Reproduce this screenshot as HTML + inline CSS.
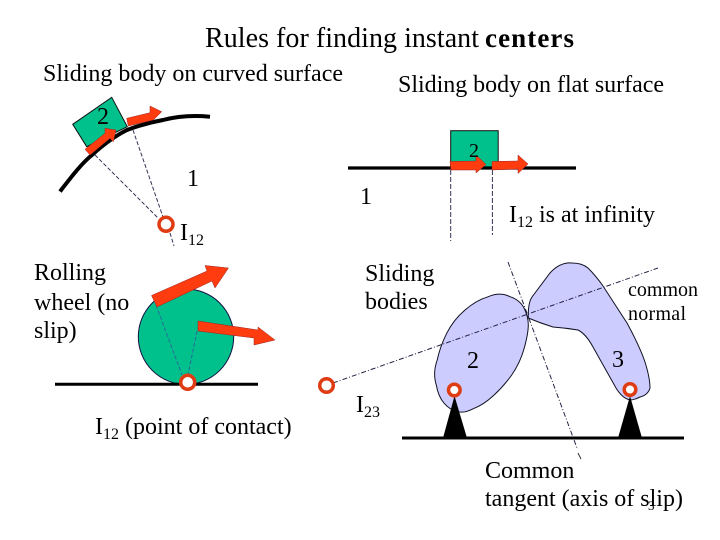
<!DOCTYPE html>
<html><head><meta charset="utf-8"><style>
html,body{margin:0;padding:0;background:#fff}
svg{display:block}
text{font-family:"Liberation Serif",serif;fill:#000}
</style></head><body>
<svg width="720" height="540" viewBox="0 0 720 540" xmlns="http://www.w3.org/2000/svg">
<!-- top-left -->
<polygon points="72.7,124.3 111.7,97.3 127.3,126.7 86.7,146.7" fill="#00c08c" stroke="#111" stroke-width="1"/>
<path d="M60,191.5 C72,176 82,163 92,155 C104,144 115,136 127,130 C140,125 152,122 163,120 C178,116 192,115 210,116.7" fill="none" stroke="#000" stroke-width="4"/>
<g stroke="#335" stroke-width="1" stroke-dasharray="4 2" fill="none">
<line x1="95" y1="155" x2="158" y2="218"/>
<line x1="133" y1="130" x2="163" y2="217"/>
<line x1="170" y1="233" x2="174" y2="246"/>
</g>
<polygon points="85,149.3 105,133.3 105,128.3 116,130 113.3,141.7 110,138.3 90,155" fill="#ff3c10" stroke="#922" stroke-width=".5"/>
<polygon points="126.7,118.3 150,112.7 150,106 161.7,111.7 153.3,120 128.3,126" fill="#ff3c10" stroke="#922" stroke-width=".5"/>
<circle cx="166" cy="224.3" r="7" fill="#fff" stroke="#e03c14" stroke-width="3.5"/>
<!-- top-right -->
<rect x="450.7" y="130.7" width="47.5" height="38" fill="#00c08c" stroke="#111" stroke-width="1"/>
<line x1="348" y1="168" x2="576" y2="168" stroke="#000" stroke-width="3.2"/>
<g stroke="#335" stroke-width="1" stroke-dasharray="5 2" fill="none">
<line x1="450.7" y1="170" x2="450.7" y2="241"/>
<line x1="492.4" y1="170" x2="492.4" y2="235"/>
</g>
<polygon points="450,161.5 476,161 476,155 486,164.5 476,173 476,170 451,170" fill="#ff3c10" stroke="#922" stroke-width=".5"/>
<polygon points="492,161.5 518,161 518,155 528,164 518,173.5 518,169 492,170" fill="#ff3c10" stroke="#922" stroke-width=".5"/>
<!-- wheel -->
<circle cx="186" cy="336.7" r="47.7" fill="#00c08c" stroke="#114" stroke-width="1"/>
<line x1="55" y1="384.3" x2="258" y2="384.3" stroke="#000" stroke-width="3"/>
<g stroke="#2a6a9a" stroke-width="1" stroke-dasharray="4 2" fill="none">
<line x1="156" y1="305" x2="182" y2="375"/>
<line x1="197" y1="331" x2="188" y2="375"/>
</g>
<polygon points="151.5,295.5 207,271 205,265.5 228.5,268 215,288 212,281 157,307" fill="#ff3c10" stroke="#922" stroke-width=".5"/>
<polygon points="198,321 258,330 258,327 275,340 254,345 254,338 198,331" fill="#ff3c10" stroke="#922" stroke-width=".5"/>
<circle cx="187.7" cy="382.3" r="7" fill="#fff" stroke="#e03c14" stroke-width="3.5"/>
<!-- cams -->
<path d="M528.3,325 Q528.3,316.7 524.2,308.4 Q520,300 510,296.7 Q500,291.5 488.3,296.7 Q476.7,300 465,310 Q453.3,320 446.7,333.3 Q440,346.7 437.2,360 Q432.5,373.3 436.3,385 Q438.3,396.7 444.2,403.3 Q450,410 456.7,411.2 Q463.3,414 473.3,408.7 Q483.3,405 493.3,395.8 Q503.3,386.7 511.7,375 Q520,363.3 524.2,348.3 Q528.3,333.3 528.3,325 Z" fill="#ccccff" stroke="#112" stroke-width="1"/>
<path d="M528.3,317 Q528,303 532,297 L550,273 Q560,262 572,263 Q582,263 588,268 Q596,276 603,286 L627,323 Q640,347 645,362 Q650,378 650,388 Q648,395 640,397 Q634,400 630,400 Q622,398 616,388 L593,347 Q586,334 578,330 Q566,328 553,327 Q540,323 528.3,318 Z" fill="#ccccff" stroke="#112" stroke-width="1"/>
<g stroke="#224" stroke-width="1" fill="none" stroke-dasharray="5 2 1 2">
<line x1="333" y1="383" x2="658" y2="268"/>
<line x1="508" y1="262" x2="577" y2="448"/>
</g>
<line x1="578" y1="453" x2="581" y2="459" stroke="#334" stroke-width="1"/>
<line x1="402" y1="438" x2="684" y2="438" stroke="#000" stroke-width="3"/>
<polygon points="454.5,396 443,438 467,438" fill="#000"/>
<polygon points="630,396 618,438 642,438" fill="#000"/>
<circle cx="454.3" cy="390" r="5.8" fill="#fff" stroke="#e03c14" stroke-width="3.5"/>
<circle cx="630" cy="389.5" r="5.8" fill="#fff" stroke="#e03c14" stroke-width="3.5"/>
<circle cx="326.5" cy="385.5" r="6.8" fill="#fff" stroke="#e03c14" stroke-width="3.5"/>
<!-- text -->
<text x="205" y="47" font-size="28" textLength="274" lengthAdjust="spacing">Rules for finding instant</text>
<text x="485" y="47" font-size="27" font-weight="bold" textLength="89" lengthAdjust="spacing">centers</text>
<text x="43" y="81" font-size="24" textLength="300" lengthAdjust="spacing">Sliding body on curved surface</text>
<text x="398" y="92" font-size="24" textLength="266" lengthAdjust="spacing">Sliding body on flat surface</text>
<text x="97" y="124" font-size="24">2</text>
<text x="187" y="186" font-size="24">1</text>
<text x="469" y="157" font-size="20">2</text>
<text x="360" y="204" font-size="24">1</text>
<text x="180" y="240" font-size="24">I<tspan font-size="16" dy="5">12</tspan></text>
<text x="509" y="222" font-size="24">I<tspan font-size="16" dy="5">12</tspan><tspan dy="-5"> is at infinity</tspan></text>
<text font-size="24"><tspan x="34" y="280">Rolling</tspan><tspan x="34" y="310">wheel (no</tspan><tspan x="34" y="338">slip)</tspan></text>
<text font-size="24"><tspan x="365" y="281">Sliding</tspan><tspan x="365" y="309">bodies</tspan></text>
<text x="95" y="434" font-size="24">I<tspan font-size="16" dy="5">12</tspan><tspan dy="-5"> (point of contact)</tspan></text>
<text x="356" y="412" font-size="24">I<tspan font-size="16" dy="5">23</tspan></text>
<text x="467" y="368" font-size="24">2</text>
<text x="612" y="367" font-size="24">3</text>
<text x="628" y="296" font-size="20" textLength="70" lengthAdjust="spacing">common</text>
<text x="628" y="320" font-size="20" textLength="58" lengthAdjust="spacing">normal</text>
<text x="485" y="478" font-size="24">Common</text>
<text x="485" y="506" font-size="24">tangent (axis of slip)</text>
<text x="648" y="510" font-size="13">3</text>
</svg>
</body></html>
